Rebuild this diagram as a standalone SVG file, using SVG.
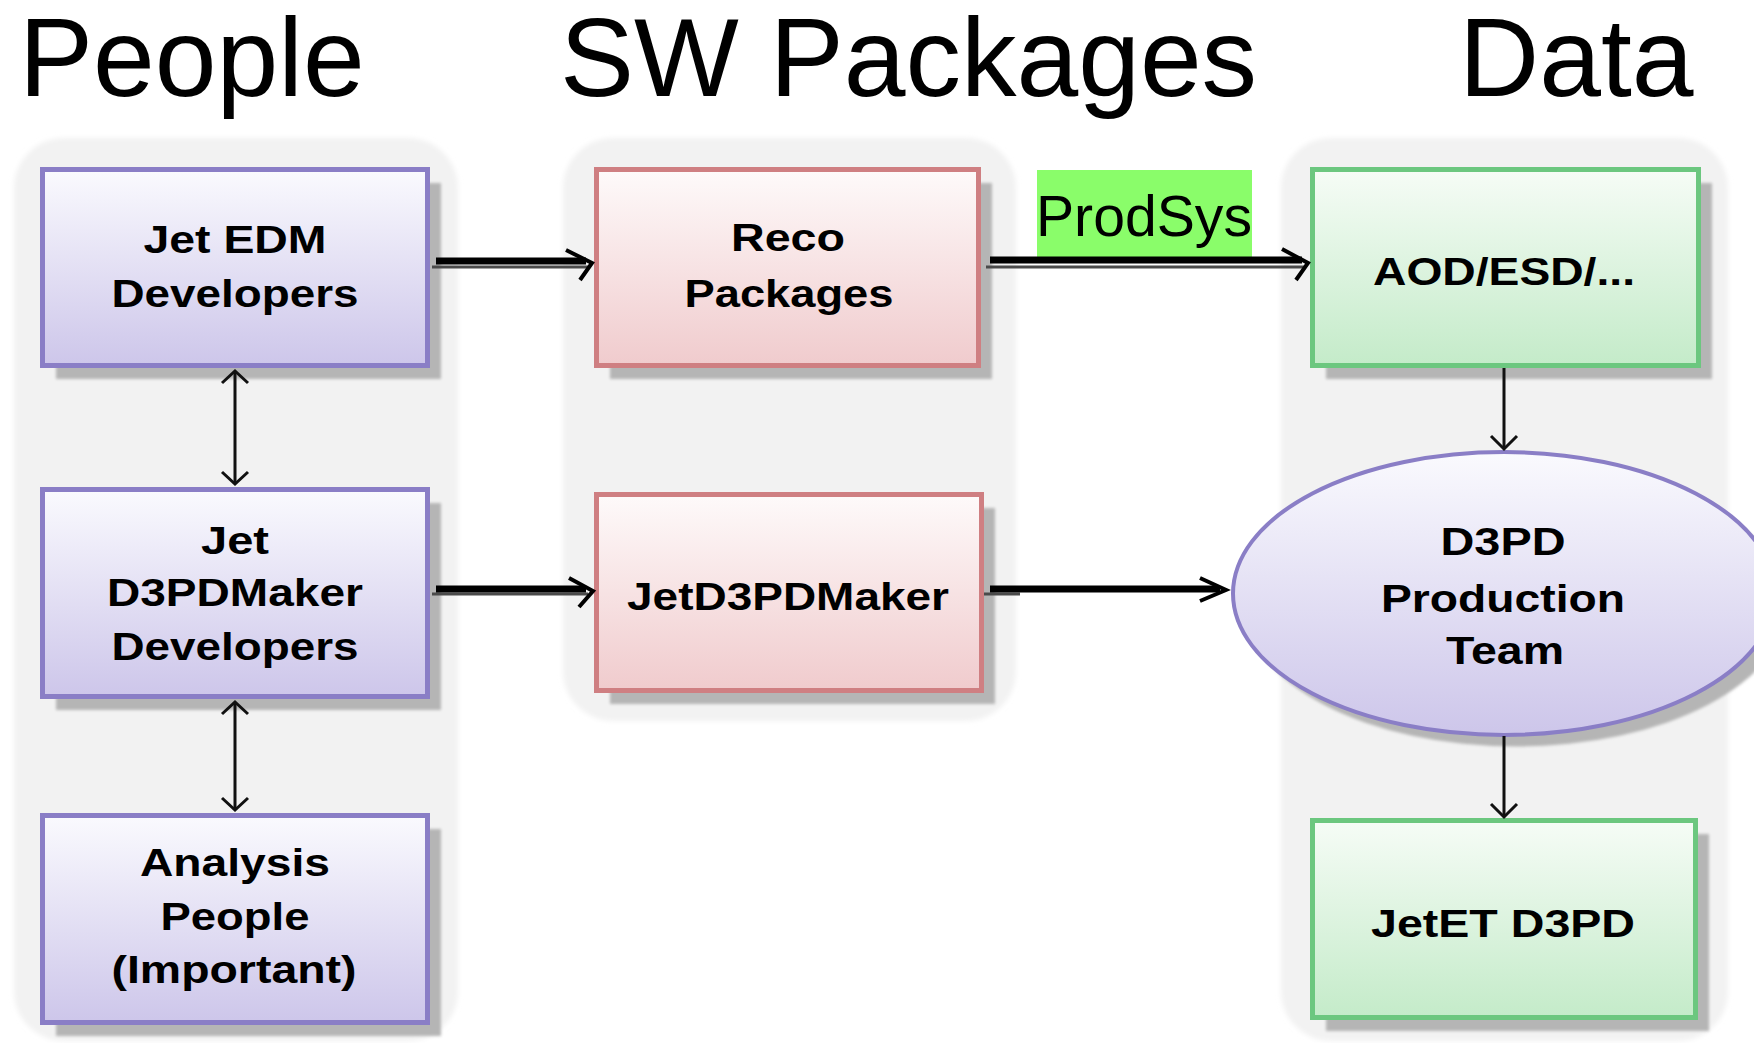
<svg xmlns="http://www.w3.org/2000/svg" width="1754" height="1043" viewBox="0 0 1754 1043">
  <defs>
    <linearGradient id="gPurple" x1="0" y1="0" x2="0" y2="1">
      <stop offset="0" stop-color="#fafafe"/>
      <stop offset="1" stop-color="#cdc6ea"/>
    </linearGradient>
    <linearGradient id="gPink" x1="0" y1="0" x2="0" y2="1">
      <stop offset="0" stop-color="#fefafa"/>
      <stop offset="1" stop-color="#f0cbcd"/>
    </linearGradient>
    <linearGradient id="gGreen" x1="0" y1="0" x2="0" y2="1">
      <stop offset="0" stop-color="#f6fcf6"/>
      <stop offset="1" stop-color="#c4ebc9"/>
    </linearGradient>
    <filter id="soft" x="-5%" y="-5%" width="110%" height="110%">
      <feGaussianBlur stdDeviation="1.5"/>
    </filter>
    <filter id="panelSoft" x="-5%" y="-5%" width="110%" height="110%">
      <feGaussianBlur stdDeviation="2.5"/>
    </filter>
  </defs>
  <style>
    .title { font-family: "Liberation Sans", Arial, sans-serif; font-size: 111px; fill: #000; }
    .lbl { font-family: "Liberation Sans", Arial, sans-serif; font-weight: bold; font-size: 39px; fill: #000; text-anchor: middle; }
    .panel { fill: #f2f2f2; }
    .shadow { fill: #b5b5b5; }
    .pbox { fill: url(#gPurple); stroke: #8a7ec6; stroke-width: 5; }
    .rbox { fill: url(#gPink); stroke: #cf7f82; stroke-width: 5; }
    .gbox { fill: url(#gGreen); stroke: #6cc77f; stroke-width: 5; }
    .thick { stroke: #000; stroke-width: 7; fill: none; }
    .under { stroke: #4a4a4a; stroke-width: 3; fill: none; }
    .head { stroke: #000; stroke-width: 4; fill: none; stroke-linejoin: miter; }
    .thin { stroke: #111; stroke-width: 3; fill: none; }
  </style>

  <rect width="1754" height="1043" fill="#ffffff"/>

  <!-- column titles -->
  <text class="title" x="19" y="96">People</text>
  <text class="title" x="560" y="96">SW Packages</text>
  <text class="title" x="1459" y="96">Data</text>

  <!-- column backgrounds -->
  <g id="panels" filter="url(#panelSoft)">
    <rect class="panel" x="14" y="138" width="444" height="903" rx="50"/>
    <rect class="panel" x="563" y="138" width="453" height="583" rx="50"/>
    <rect class="panel" x="1281" y="138" width="447" height="903" rx="50"/>
  </g>

  <!-- label on the reco -> data link -->
  <g id="prodsys-label">
    <rect x="1037" y="170" width="215" height="87" fill="#8afd6a"/>
    <text x="1036" y="236" font-family="Liberation Sans, Arial, sans-serif" font-size="58" textLength="216" lengthAdjust="spacingAndGlyphs">ProdSys</text>
  </g>

  <!-- People -->
  <g id="jet-edm-developers">
    <rect class="shadow" x="56" y="183" width="385" height="196" filter="url(#soft)"/>
    <rect class="pbox" x="42.5" y="169.5" width="385" height="196"/>
    <text class="lbl" x="235" y="253" textLength="183" lengthAdjust="spacingAndGlyphs">Jet EDM</text>
    <text class="lbl" x="235" y="307" textLength="247" lengthAdjust="spacingAndGlyphs">Developers</text>
  </g>
  <g id="jet-d3pdmaker-developers">
    <rect class="shadow" x="56" y="503" width="385" height="207" filter="url(#soft)"/>
    <rect class="pbox" x="42.5" y="489.5" width="385" height="207"/>
    <text class="lbl" x="235" y="554" textLength="68" lengthAdjust="spacingAndGlyphs">Jet</text>
    <text class="lbl" x="235" y="606" textLength="256" lengthAdjust="spacingAndGlyphs">D3PDMaker</text>
    <text class="lbl" x="235" y="660" textLength="247" lengthAdjust="spacingAndGlyphs">Developers</text>
  </g>
  <g id="analysis-people">
    <rect class="shadow" x="56" y="829" width="385" height="207" filter="url(#soft)"/>
    <rect class="pbox" x="42.5" y="815.5" width="385" height="207"/>
    <text class="lbl" x="235" y="876" textLength="190" lengthAdjust="spacingAndGlyphs">Analysis</text>
    <text class="lbl" x="235" y="930" textLength="149" lengthAdjust="spacingAndGlyphs">People</text>
    <text class="lbl" x="234" y="983" textLength="245" lengthAdjust="spacingAndGlyphs">(Important)</text>
  </g>

  <!-- SW Packages -->
  <g id="reco-packages">
    <rect class="shadow" x="610" y="183" width="382" height="196" filter="url(#soft)"/>
    <rect class="rbox" x="596.5" y="169.5" width="382" height="196"/>
    <text class="lbl" x="788" y="251" textLength="114" lengthAdjust="spacingAndGlyphs">Reco</text>
    <text class="lbl" x="789" y="307" textLength="209" lengthAdjust="spacingAndGlyphs">Packages</text>
  </g>
  <g id="jetd3pdmaker">
    <rect class="shadow" x="610" y="508" width="385" height="196" filter="url(#soft)"/>
    <rect class="rbox" x="596.5" y="494.5" width="385" height="196"/>
    <text class="lbl" x="788" y="610" textLength="322" lengthAdjust="spacingAndGlyphs">JetD3PDMaker</text>
  </g>

  <!-- Data -->
  <g id="aod-esd">
    <rect class="shadow" x="1326" y="183" width="386" height="196" filter="url(#soft)"/>
    <rect class="gbox" x="1312.5" y="169.5" width="386" height="196"/>
    <text class="lbl" x="1504" y="285" textLength="262" lengthAdjust="spacingAndGlyphs">AOD/ESD/...</text>
  </g>
  <g id="d3pd-production-team">
    <ellipse class="shadow" cx="1516" cy="605" rx="271" ry="141.5" filter="url(#soft)"/>
    <ellipse cx="1504" cy="593.5" rx="271" ry="141.5" fill="url(#gPurple)" stroke="#8a7ec6" stroke-width="4"/>
    <text class="lbl" x="1503" y="555" textLength="125" lengthAdjust="spacingAndGlyphs">D3PD</text>
    <text class="lbl" x="1503" y="612" textLength="244" lengthAdjust="spacingAndGlyphs">Production</text>
    <text class="lbl" x="1505" y="664" textLength="118" lengthAdjust="spacingAndGlyphs">Team</text>
  </g>
  <g id="jetet-d3pd">
    <rect class="shadow" x="1326" y="834" width="383" height="197" filter="url(#soft)"/>
    <rect class="gbox" x="1312.5" y="820.5" width="383" height="197"/>
    <text class="lbl" x="1503" y="937" textLength="264" lengthAdjust="spacingAndGlyphs">JetET D3PD</text>
  </g>

  <!-- connectors -->
  <g id="connectors">
    <!-- Jet EDM Developers -> Reco Packages -->
    <line class="under" x1="432" y1="267" x2="588" y2="267"/>
    <line class="thick" x1="436" y1="261" x2="586" y2="261"/>
    <path class="head" d="M566,250 L592,263 L580,280"/>

    <!-- Reco Packages -> AOD/ESD (ProdSys) -->
    <line class="under" x1="986" y1="267" x2="1304" y2="267"/>
    <line class="thick" x1="990" y1="260" x2="1302" y2="260"/>
    <path class="head" d="M1282,249 L1308,263 L1296,280"/>

    <!-- Jet D3PDMaker Developers -> JetD3PDMaker -->
    <line class="under" x1="432" y1="594" x2="588" y2="594"/>
    <line class="thick" x1="436" y1="589" x2="586" y2="589"/>
    <path class="head" d="M569,578 L593,591 L579,607"/>

    <!-- JetD3PDMaker -> D3PD Production Team -->
    <line class="under" x1="984" y1="594" x2="1020" y2="594"/>
    <line class="thick" x1="990" y1="589" x2="1220" y2="589" stroke-width="8"/>
    <path class="head" d="M1200,578 L1226,590 L1200,601" stroke-width="5"/>

    <!-- Jet EDM Developers <-> Jet D3PDMaker Developers -->
    <line class="thin" x1="235" y1="371" x2="235" y2="484"/>
    <path class="thin" d="M222,383 L235,371 L248,383"/>
    <path class="thin" d="M222,472 L235,484 L248,472"/>

    <!-- Jet D3PDMaker Developers <-> Analysis People -->
    <line class="thin" x1="235" y1="702" x2="235" y2="810"/>
    <path class="thin" d="M222,714 L235,702 L248,714"/>
    <path class="thin" d="M222,798 L235,810 L248,798"/>

    <!-- AOD/ESD -> D3PD Production Team -->
    <line class="thin" x1="1504" y1="368" x2="1504" y2="449"/>
    <path class="thin" d="M1491,436 L1504,449 L1517,436"/>

    <!-- D3PD Production Team -> JetET D3PD -->
    <line class="thin" x1="1504" y1="736" x2="1504" y2="817"/>
    <path class="thin" d="M1491,804 L1504,817 L1517,804"/>
  </g>
</svg>
